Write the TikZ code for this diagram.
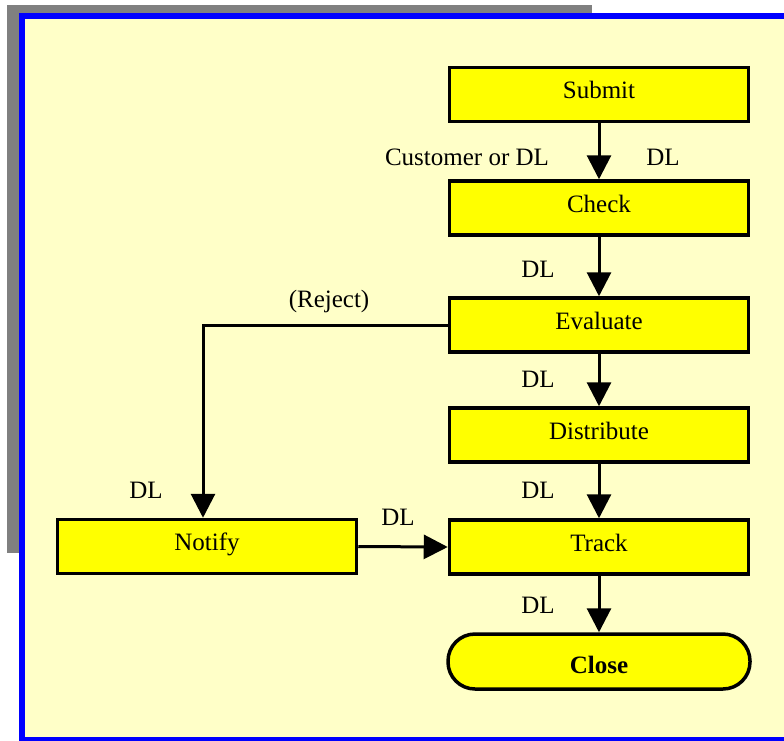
\documentclass[tikz,border=0pt]{standalone}
\usepackage{fontspec}
\setmainfont{Liberation Serif}
\usetikzlibrary{arrows.meta}
\definecolor{paper}{RGB}{255,255,200}
\definecolor{boxyellow}{RGB}{255,255,0}
\definecolor{frameblue}{RGB}{0,0,255}
\definecolor{shadowgray}{RGB}{128,128,128}
\begin{document}
\begin{tikzpicture}[x=1pt,y=-1pt,
    stepbox/.style={draw=black, line width=3.5pt, fill=boxyellow,
        minimum width=299pt, minimum height=54pt, inner sep=0pt,
        text height=16pt, text depth=8pt,
        font=\fontsize{25}{30}\selectfont},
    endbox/.style={stepbox, rounded corners=27pt, minimum width=302pt,
        minimum height=55pt, text height=24pt, text depth=0pt,
        font=\fontsize{25}{30}\selectfont\bfseries},
    flow/.style={line width=3pt, -{Triangle[length=24pt,width=24pt]}},
    lbl/.style={inner sep=0pt, font=\fontsize{25}{30}\selectfont}]
                    \useasboundingbox (0,0) rectangle (784,740);
                    % frame with shadow
                    \fill[shadowgray] (7,5) rectangle (592,553);
                    \draw[frameblue, line width=6pt, fill=paper] (22,16) rectangle (812,740);

                    % steps
                    \def\X{599}
                    \node[stepbox] (submit)     at (\X, 94.5) {Submit};
                    \node[stepbox] (check)      at (\X, 208)  {Check};
                    \node[stepbox] (evaluate)   at (\X, 325)  {Evaluate};
                    \node[stepbox] (distribute) at (\X, 435)  {Distribute};
                    \node[stepbox] (track)      at (\X, 547)  {Track};
                    \node[stepbox] (notify)     at (207, 546.5) {Notify};
                    \node[endbox]  (close)      at (\X, 661.5) {Close};
                    \coordinate (rejectbend) at (203, 325);

                    % flow
                    \draw[flow] (submit) -- (check);
                    \draw[flow] (check) -- (evaluate);
                    \draw[flow] (evaluate) -- (distribute);
                    \draw[flow] (distribute) -- (track);
                    \draw[flow] (track) -- (close);
                    \draw[flow] (evaluate.west) -- (rejectbend) -- (rejectbend |- notify.north);
                    \draw[flow] (notify.east) -- (track.west);

                    % labels
                    \node[lbl] (lcust)   at (467, 157) {Customer or DL};
                    \node[lbl] (lsubdl)  at (663, 157) {DL};
                    \node[lbl] (lcheck)  at (538, 269) {DL};
                    \node[lbl] (lreject) at (329, 301) {(Reject)};
                    \node[lbl] (leval)   at (538, 379) {DL};
                    \node[lbl] (ldist)   at (538, 490) {DL};
                    \node[lbl] (lnotdn)  at (146, 490) {DL};
                    \node[lbl] (lnotify) at (398, 517) {DL};
                    \node[lbl] (ltrack)  at (538, 605) {DL};
                \end{tikzpicture}
\end{document}
